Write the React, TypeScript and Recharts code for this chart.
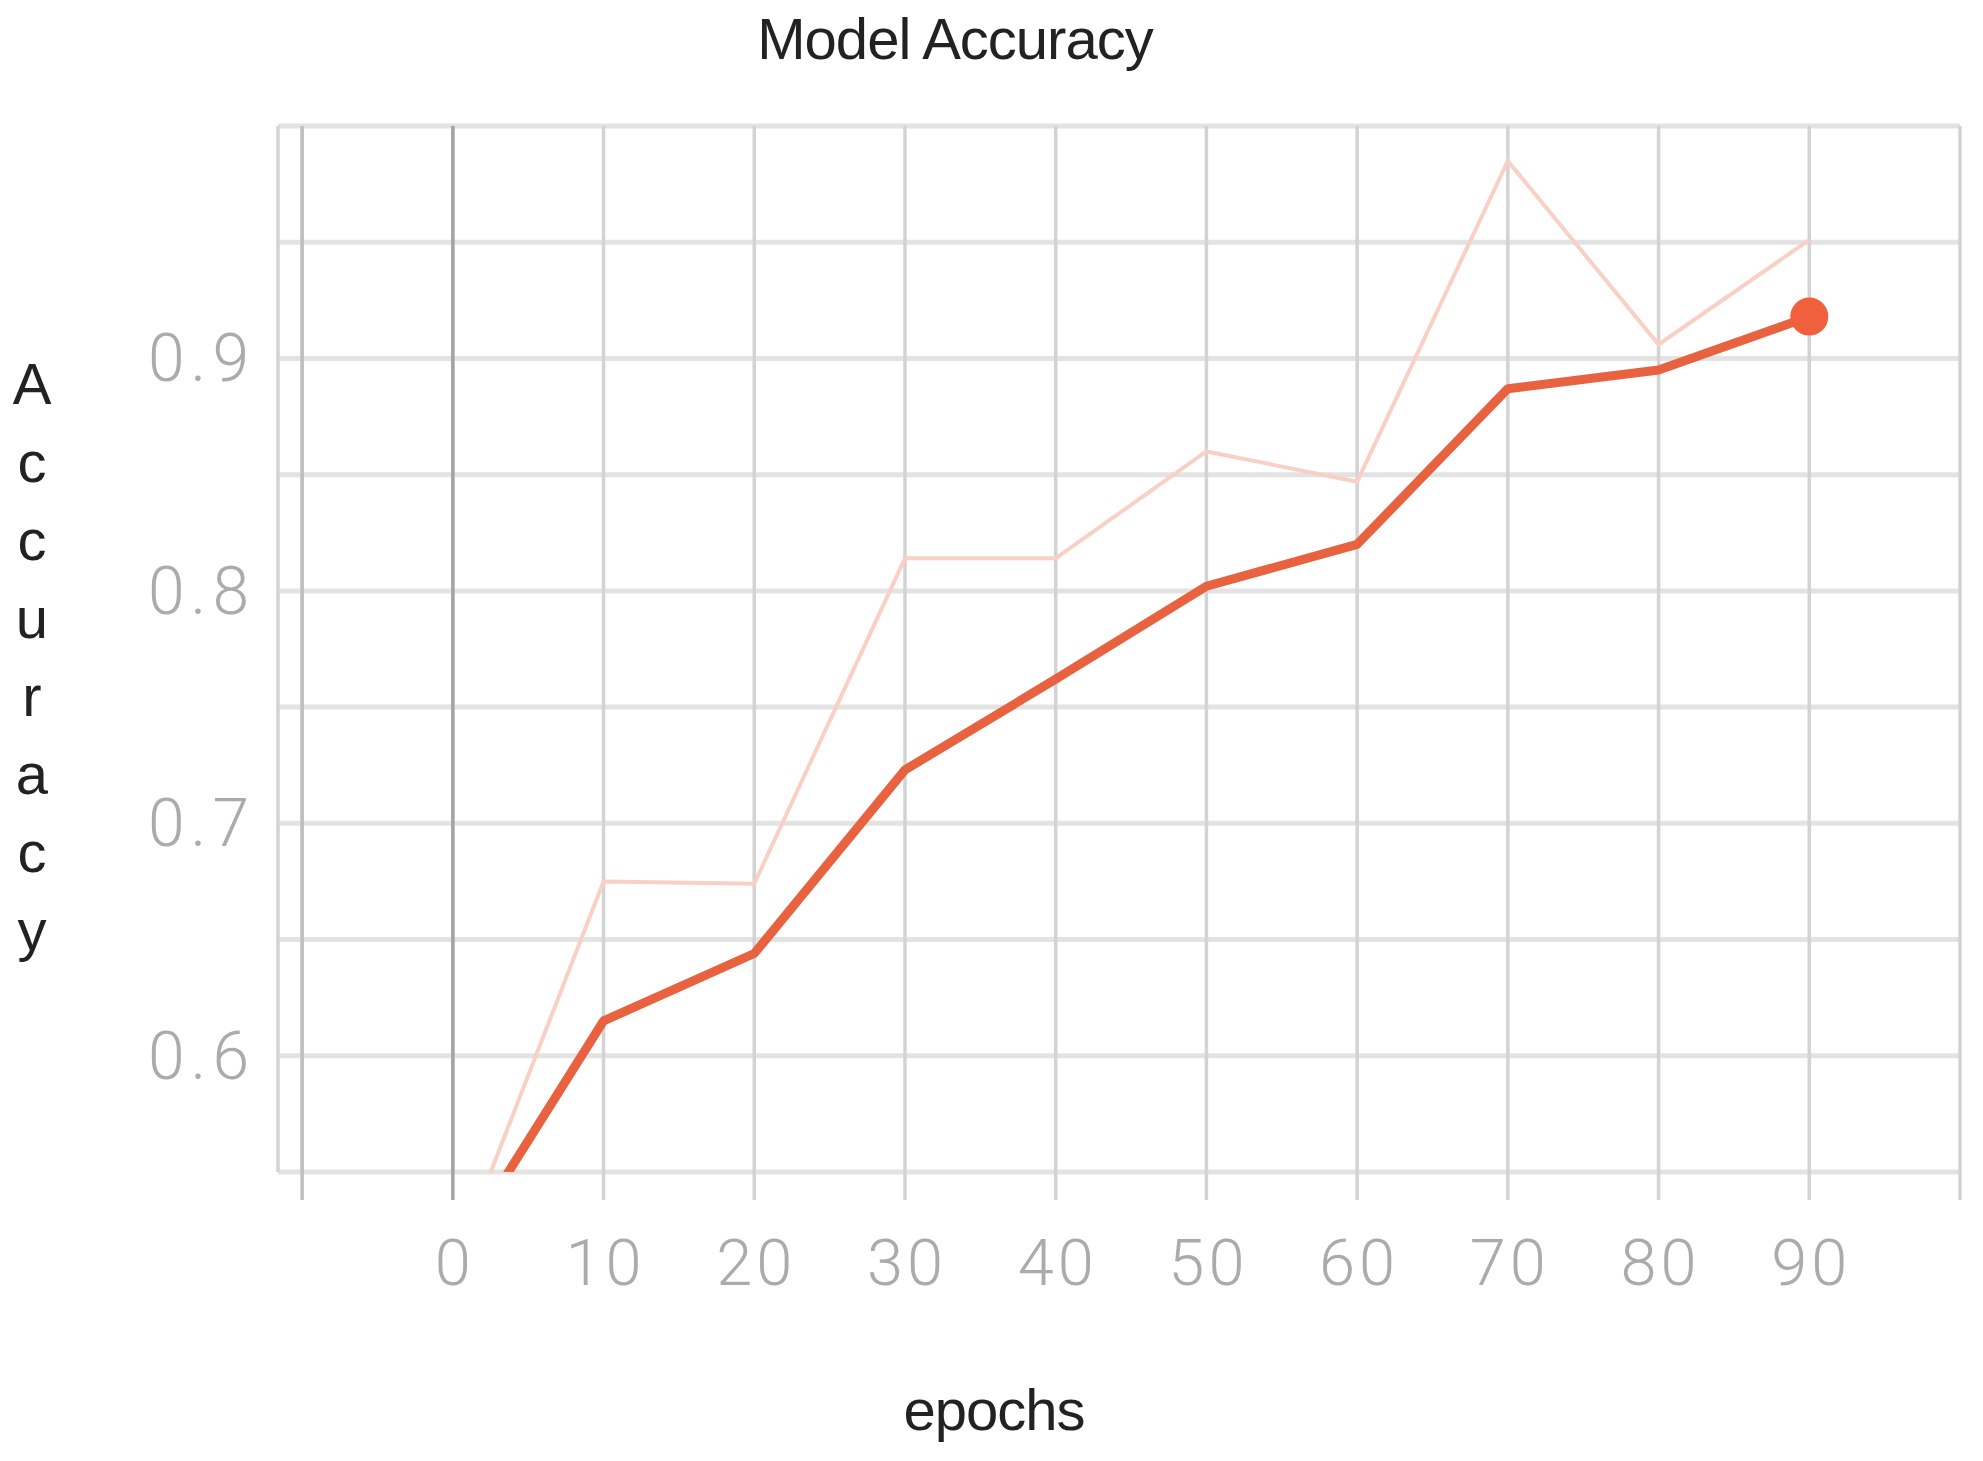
import { CartesianGrid, Label, Line, LineChart, ReferenceLine, XAxis, YAxis } from "recharts";

// epochs on the x axis, raw and smoothed accuracy
const epochs = [0, 10, 20, 30, 40, 50, 60, 70, 80, 90];
const rawAccuracy = [0.508, 0.675, 0.674, 0.814, 0.814, 0.86, 0.847, 0.985, 0.906, 0.951];
const smoothedAccuracy = [0.512, 0.615, 0.644, 0.723, 0.762, 0.802, 0.82, 0.887, 0.895, 0.918];

const xTicks = [-10, 0, 10, 20, 30, 40, 50, 60, 70, 80, 90, 100];
const xTickLabels = ["0", "10", "20", "30", "40", "50", "60", "70", "80", "90"];
const yTicks = [0.55, 0.6, 0.65, 0.7, 0.75, 0.8, 0.85, 0.9, 0.95, 1.0];
const yTickLabels = ["0.6", "0.7", "0.8", "0.9"];

const data = epochs.map((epoch, i) => ({
  epoch,
  raw: rawAccuracy[i],
  smoothed: smoothedAccuracy[i],
}));

const TICK_FONT = "Roboto, 'Liberation Sans', sans-serif";
const TEXT_FONT = "'Liberation Sans', Arial, sans-serif";

function lineColor(value: number) {
  if (value === 0) return "#a4a4a4";
  if (value === -10) return "#bfbfbf";
  return "#d3d3d3";
}

function XTick(props: any) {
  const { x, y, payload } = props;
  const value = payload.value as number;
  const showLabel = xTickLabels.includes(String(value));
  return (
    <g>
      <line x1={x} x2={x} y1={y - 28} y2={y} stroke={lineColor(value)} strokeWidth={3.5} />
      {showLabel && (
        <text
          x={x + 2}
          y={y + 85}
          textAnchor="middle"
          fill="#ababab"
          fontFamily={TICK_FONT}
          fontWeight={300}
          fontSize={65}
          letterSpacing={4}
        >
          {value}
        </text>
      )}
    </g>
  );
}

function YTick(props: any) {
  const { x, y, payload } = props;
  const label = yTickLabels.find((l) => Math.abs(parseFloat(l) - payload.value) < 1e-6);
  if (!label) return <g />;
  return (
    <text
      x={x}
      y={y + 23}
      textAnchor="end"
      fill="#ababab"
      fontFamily={TICK_FONT}
      fontWeight={300}
      fontSize={66}
      letterSpacing={6}
    >
      {label}
    </text>
  );
}

function LastDot(props: any) {
  const { cx, cy, index } = props;
  if (index !== data.length - 1) return <g key={`d-${index}`} />;
  return <circle key={`d-${index}`} cx={cx} cy={cy} r={19} fill="#f0603c" />;
}

export default function App() {
  return (
    <div style={{ position: "absolute", left: 0, top: 0, width: 1983, height: 1461, background: "#fff" }}>
      <svg width={1983} height={100} style={{ position: "absolute", left: 0, top: 0 }}>
        <text x={955} y={59} textAnchor="middle" fill="#222" fontFamily={TEXT_FONT} fontSize={58} letterSpacing={-1}>
          Model Accuracy
        </text>
      </svg>
      <LineChart width={1983} height={1461} data={data} margin={{ top: 126, right: 23, bottom: 0, left: 0 }}>
        <CartesianGrid vertical={false} stroke="#e3e3e3" strokeWidth={5} />
        <CartesianGrid horizontal={false} stroke="#d3d3d3" strokeWidth={3.5} />
        <XAxis
          dataKey="epoch"
          type="number"
          domain={[-11.6, 100]}
          ticks={xTicks}
          interval={0}
          allowDataOverflow
          axisLine={false}
          tickLine={false}
          tickSize={28}
          tickMargin={0}
          height={289}
          tick={<XTick />}
        >
          <Label
            content={() => (
              <text x={994} y={1430} textAnchor="middle" fill="#222" fontFamily={TEXT_FONT} fontSize={58} letterSpacing={-1}>
                epochs
              </text>
            )}
          />
        </XAxis>
        <YAxis
          type="number"
          domain={[0.55, 1.0]}
          ticks={yTicks}
          interval={0}
          allowDataOverflow
          axisLine={false}
          tickLine={false}
          tickSize={0}
          tickMargin={23}
          width={278}
          tick={<YTick />}
        >
          <Label
            content={() => (
              <g>
                {"Accuracy".split("").map((ch, i) => (
                  <text
                    key={i}
                    x={32}
                    y={404 + i * 78}
                    textAnchor="middle"
                    fill="#222"
                    fontFamily={TEXT_FONT}
                    fontSize={58}
                  >
                    {ch}
                  </text>
                ))}
              </g>
            )}
          />
        </YAxis>
        <ReferenceLine x={-10} stroke="#bfbfbf" strokeWidth={3.5} />
        <ReferenceLine x={0} stroke="#a4a4a4" strokeWidth={3.5} />
        <Line
          dataKey="raw"
          type="linear"
          stroke="#f8d0c5"
          strokeWidth={4}
          dot={false}
          activeDot={false}
          isAnimationActive={false}
        />
        <Line
          dataKey="smoothed"
          type="linear"
          stroke="#e8623f"
          strokeWidth={9}
          strokeLinejoin="round"
          dot={LastDot}
          activeDot={false}
          isAnimationActive={false}
        />
      </LineChart>
    </div>
  );
}
